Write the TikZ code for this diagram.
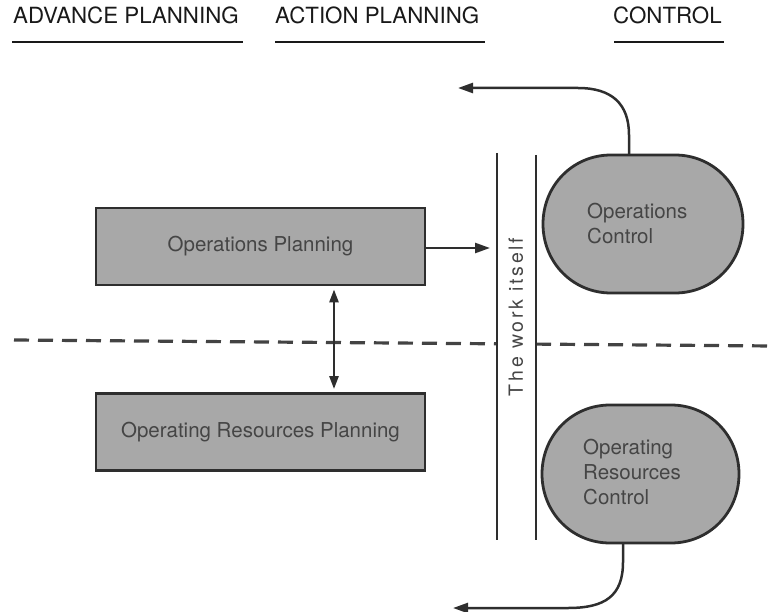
\documentclass[tikz,border=0pt]{standalone}
\usepackage{fontspec}
\setmainfont{TeX Gyre Heros}
\newfontfamily\spacedfont[LetterSpace=14]{TeX Gyre Heros}
\usetikzlibrary{arrows.meta}
\definecolor{ink}{HTML}{2E2E2E}
\definecolor{shade}{HTML}{A8A8A8}
\definecolor{boxtext}{HTML}{454545}
\tikzset{
  heading/.style={anchor=base west, inner sep=0pt, text=black!90,
    font=\fontsize{22.3}{26}\selectfont},
  rule/.style={line width=2.6pt, draw=black!90},
  planbox/.style={draw=ink, line width=2.8pt, fill=shade, inner sep=0pt,
    minimum width=329pt, minimum height=77pt, text=boxtext,
    font=\fontsize{20.5}{25}\selectfont},
  ctrlframe/.style={inner sep=0pt, minimum width=200pt, minimum height=138pt},
  ctrloutline/.style={draw=ink, line width=2.8pt, fill=shade},
  ctrltext/.style={anchor=west, inner sep=0pt, align=left, text=boxtext,
    font=\fontsize{20.5}{25}\selectfont},
  flow/.style={draw=ink, line width=2.5pt,
    -{Triangle[length=15pt,width=10pt]}},
  twoway/.style={draw=ink, line width=2.5pt,
    {Triangle[length=13pt,width=9pt]}-{Triangle[length=13pt,width=9pt]}},
  wall/.style={draw=ink, line width=2.5pt},
  divider/.style={draw=ink!90, line width=3.2pt, dash pattern=on 15pt off 9pt}
}
% outline of a control block: flat top and bottom, elliptical ends
% #1,#2 = left/top corner, #3,#4 = right/bottom corner, #5 = corner width
\newcommand{\ctrlblob}[5]{%
  \draw[ctrloutline]
    ({#1+#5},#2) -- ({#3-#5},#2)
    .. controls ({#3-0.44*#5},#2) and (#3,{#2+0.22*(#4-#2)}) .. (#3,{(#2+#4)/2})
    .. controls (#3,{#4-0.22*(#4-#2)}) and ({#3-0.44*#5},#4) .. ({#3-#5},#4)
    -- ({#1+#5},#4)
    .. controls ({#1+0.44*#5},#4) and (#1,{#4-0.22*(#4-#2)}) .. (#1,{(#2+#4)/2})
    .. controls (#1,{#2+0.22*(#4-#2)}) and ({#1+0.44*#5},#2) .. ({#1+#5},#2)
    -- cycle;}
\begin{document}
\begin{tikzpicture}[x=1pt,y=-1pt]
  \useasboundingbox (0,0) rectangle (773,612);

  % column headings
  \node[heading] (hadv) at (13,24) {ADVANCE PLANNING};
  \node[heading] (hact) at (275,24) {ACTION PLANNING};
  \node[heading] (hctl) at (613,24) {CONTROL};
  \draw[rule] (12,42) -- (243,42);
  \draw[rule] (275,42) -- (485,42);
  \draw[rule] (614,42) -- (724,42);

  % dividing line between operations and resources
  \coordinate (dl0) at (14,340);
  \coordinate (dl1) at (497,343.8);
  \coordinate (dl2) at (536,344.1);
  \coordinate (dl3) at (773,346);
  \draw[divider] (dl0) -- (dl1);
  \draw[divider] (dl2) -- (dl3);

  % planning boxes
  \node[planbox] (opplan) at (260.5,246.5) {Operations Planning};
  \node[planbox] (resplan) at (260.5,432) {Operating Resources Planning};

  % the work itself
  \coordinate (wl1) at (497,153);
  \coordinate (wl2) at (497,540);
  \coordinate (wr1) at (536,155);
  \coordinate (wr2) at (536,540);
  \draw[wall] (wl1) -- (wl2);
  \draw[wall] (wr1) -- (wr2);
  \node[rotate=90, inner sep=0pt, text=boxtext,
    font=\spacedfont\fontsize{19.5}{24}\selectfont] (work) at (516,317)
    {The work itself};

  % control blocks
  \ctrlblob{543}{155}{743}{293}{68}
  \node[ctrlframe] (opctl) at (643,224) {};
  \node[ctrltext] (opctltext) at (587,224) {Operations\\Control};
  \ctrlblob{542}{405}{739}{543}{68}
  \node[ctrlframe] (resctl) at (640.5,474) {};
  \node[ctrltext] (resctltext) at (583,472) {Operating\\Resources\\Control};

  % connectors
  \coordinate (workin) at (490,248);
  \draw[flow] (opplan.east |- workin) -- (workin);
  \draw[twoway] ([yshift=-3pt]opplan.south -| 334,0) -- ([yshift=3pt]resplan.north -| 334,0);

  \coordinate (topend) at (458,88);
  \draw[flow] ([xshift=-14pt]opctl.north) -- (629,135)
    .. controls (629,104) and (612,88) .. (578,88) -- (topend);

  \coordinate (botend) at (453,608);
  \draw[flow] ([xshift=-17.5pt]resctl.south) -- (623,562)
    .. controls (623,596) and (605,608) .. (568,608) -- (botend);
\end{tikzpicture}
\end{document}
